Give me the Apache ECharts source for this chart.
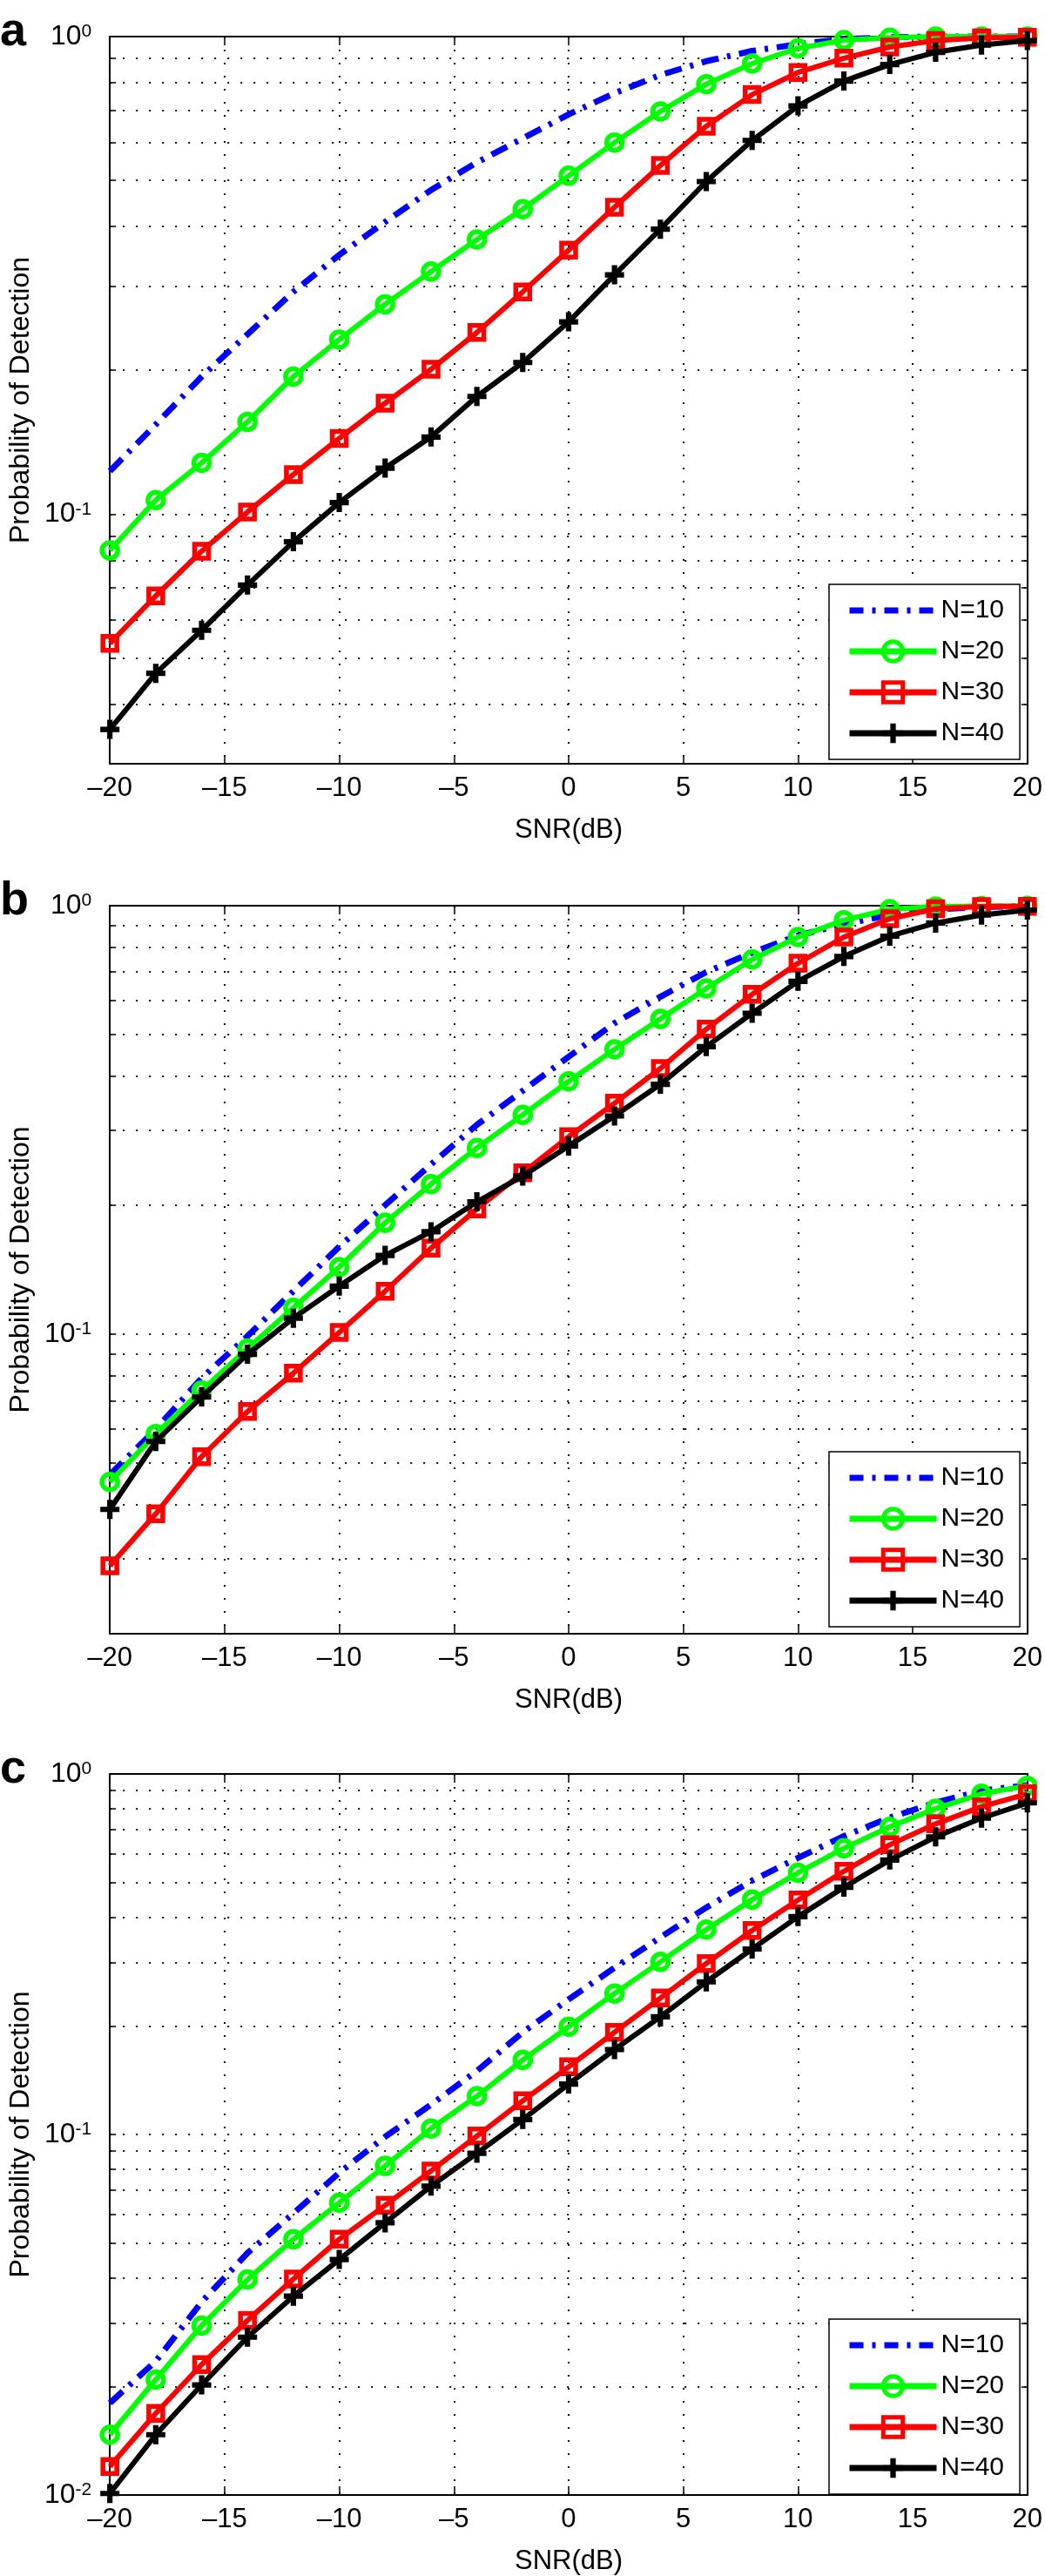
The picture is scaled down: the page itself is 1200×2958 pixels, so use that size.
<!DOCTYPE html>
<html><head><meta charset="utf-8">
<script src="https://cdn.jsdelivr.net/npm/echarts@6/dist/echarts.min.js"></script>
<style>html,body{margin:0;padding:0;background:#fff}#c{width:1200px;height:2958px}</style>
</head><body><div id="c"></div>
<script>
// ---------- data ----------
const snr = [-20,-18,-16,-14,-12,-10,-8,-6,-4,-2,0,2,4,6,8,10,12,14,16,18,20];
const seriesNames = ['N=10','N=20','N=30','N=40'];
const xTicks = [-20,-15,-10,-5,0,5,10,15,20];

// panel a
const a_N10 = [0.123,0.154,0.194,0.238,0.292,0.349,0.409,0.477,0.545,0.612,0.687,0.761,0.831,0.888,0.933,0.964,0.988,0.997,1.0,1.0,1.0];
const a_N20 = [0.0839,0.107,0.128,0.156,0.194,0.232,0.275,0.322,0.376,0.435,0.511,0.600,0.697,0.795,0.878,0.945,0.983,0.995,1.0,1.0,1.0];
const a_N30 = [0.0536,0.0674,0.0836,0.101,0.121,0.144,0.1707,0.201,0.240,0.292,0.357,0.439,0.537,0.649,0.756,0.841,0.901,0.951,0.981,0.994,0.997];
const a_N40 = [0.0354,0.0464,0.0571,0.0710,0.0875,0.1057,0.1248,0.145,0.1763,0.2077,0.2527,0.317,0.395,0.497,0.606,0.716,0.807,0.874,0.927,0.960,0.981];
const a_yTicks = [0.03,0.04,0.05,0.06,0.07,0.08,0.09,0.1,0.2,0.3,0.4,0.5,0.6,0.7,0.8,0.9,1];
const a_yLabels = [0.1,1];

// panel b
const b_N10 = [0.047,0.060,0.079,0.099,0.126,0.160,0.200,0.249,0.308,0.370,0.444,0.532,0.613,0.700,0.777,0.852,0.905,0.952,0.980,0.993,0.998];
const b_N20 = [0.0452,0.0585,0.0739,0.0926,0.1152,0.1434,0.182,0.224,0.272,0.325,0.389,0.462,0.544,0.641,0.749,0.845,0.925,0.981,0.995,0.998,0.999];
const b_N30 = [0.0288,0.0381,0.0518,0.0660,0.0811,0.101,0.126,0.1587,0.196,0.238,0.289,0.346,0.417,0.515,0.621,0.734,0.845,0.932,0.984,0.995,0.997];
const b_N40 = [0.039,0.0562,0.0714,0.0898,0.109,0.1295,0.1527,0.1734,0.2037,0.234,0.275,0.323,0.383,0.469,0.561,0.666,0.761,0.849,0.911,0.951,0.977];
const b_yTicks = [0.02,0.03,0.04,0.05,0.06,0.07,0.08,0.09,0.1,0.2,0.3,0.4,0.5,0.6,0.7,0.8,0.9,1];
const b_yLabels = [0.1,1];

// panel c
const c_N10 = [0.018,0.0235,0.0343,0.0469,0.0604,0.0783,0.0985,0.121,0.150,0.192,0.237,0.290,0.352,0.426,0.506,0.585,0.672,0.756,0.833,0.899,0.930];
const c_N20 = [0.0147,0.0209,0.0295,0.0396,0.0512,0.0647,0.0818,0.1038,0.1277,0.161,0.199,0.246,0.301,0.370,0.448,0.532,0.622,0.713,0.801,0.881,0.927];
const c_N30 = [0.0120,0.01685,0.0230,0.0305,0.0397,0.0512,0.0636,0.0792,0.099,0.124,0.154,0.192,0.239,0.298,0.368,0.447,0.537,0.636,0.727,0.811,0.881];
const c_N40 = [0.0101,0.0147,0.0202,0.0274,0.0356,0.045,0.0569,0.0719,0.0887,0.110,0.138,0.172,0.212,0.265,0.327,0.402,0.485,0.577,0.669,0.754,0.831];
const c_yTicks = [0.01,0.02,0.03,0.04,0.05,0.06,0.07,0.08,0.09,0.1,0.2,0.3,0.4,0.5,0.6,0.7,0.8,0.9,1];
const c_yLabels = [0.01,0.1,1];

// ---------- layout / style ----------
const FONT = '"Liberation Sans", Arial, Helvetica, sans-serif';
const panels = [
  {letter:'a', top:42,   height:835, ymin:0.03, ticks:a_yTicks, labels:a_yLabels, data:[a_N10,a_N20,a_N30,a_N40], legendTop:671},
  {letter:'b', top:1040, height:836, ymin:0.02, ticks:b_yTicks, labels:b_yLabels, data:[b_N10,b_N20,b_N30,b_N40], legendTop:1667},
  {letter:'c', top:2037, height:836, ymin:0.01, ticks:c_yTicks, labels:c_yLabels, data:[c_N10,c_N20,c_N30,c_N40], legendTop:2663}
];
const GL = 121, GW = 1060;
const gridStyle = {color:'#111', width:2, type:[2,13]};
const axisLineStyle = {color:'#000', width:2};
const crossPath = 'path://M3.6,0H6.4V3.6H10V6.4H6.4V10H3.6V6.4H0V3.6H3.6Z';
const COLORS = ['#0000ff','#00ff00','#ff0000','#000000'];
const styles = [
  {symbol:'none', lineStyle:{color:COLORS[0], width:7, type:[20,10,4,10]}, itemStyle:{color:COLORS[0], opacity:0}},
  {symbol:'circle', symbolSize:18, lineStyle:{color:COLORS[1], width:6}, itemStyle:{color:'rgba(255,255,255,0)', borderColor:COLORS[1], borderWidth:5.5}},
  {symbol:'rect', symbolSize:16, lineStyle:{color:COLORS[2], width:6}, itemStyle:{color:'rgba(255,255,255,0)', borderColor:COLORS[2], borderWidth:5.5}},
  {symbol:crossPath, symbolSize:22, lineStyle:{color:COLORS[3], width:6}, itemStyle:{color:COLORS[3]}}
];
const legendItems = [
  {name:'N=10', itemStyle:{opacity:0}, lineStyle:{color:COLORS[0], width:7, type:[16,10,4,10]}},
  {name:'N=20', itemStyle:{color:'rgba(255,255,255,0)', borderColor:COLORS[1], borderWidth:5}, lineStyle:{color:COLORS[1], width:7}},
  {name:'N=30', itemStyle:{color:'rgba(255,255,255,0)', borderColor:COLORS[2], borderWidth:5}, lineStyle:{color:COLORS[2], width:7}},
  {name:'N=40', itemStyle:{color:COLORS[3]}, lineStyle:{color:COLORS[3], width:7}}
];
const fmtX = v => String(v).replace('-', '\u2013');
const fmtY = v => { const e = Math.round(Math.log10(v)); return '{b|10}{s|' + e + '}'; };

const grid = [], xAxis = [], yAxis = [], series = [], legend = [], graphic = [];
panels.forEach((p, gi) => {
  grid.push({left:GL, top:p.top, width:GW, height:p.height, containLabel:false});
  xAxis.push({
    type:'value', gridIndex:gi, min:-20, max:20, interval:5,
    axisLine:{onZero:false, lineStyle:axisLineStyle},
    axisTick:{inside:true, length:10, lineStyle:{color:'#000', width:1.5}},
    splitLine:{show:true, lineStyle:gridStyle},
    axisLabel:{margin:13, fontSize:31, fontFamily:FONT, color:'#000', formatter:fmtX},
    name:'SNR(dB)', nameLocation:'middle', nameGap:61,
    nameTextStyle:{fontSize:31, fontFamily:FONT, color:'#000'}
  });
  xAxis.push({
    type:'value', gridIndex:gi, position:'top', min:-20, max:20, interval:5,
    axisLine:{onZero:false, lineStyle:axisLineStyle},
    axisTick:{inside:true, length:10, lineStyle:{color:'#000', width:1.5}},
    axisLabel:{show:false}, splitLine:{show:false}
  });
  yAxis.push({
    type:'log', logBase:10, gridIndex:gi, min:p.ymin, max:1,
    axisLine:{show:true, onZero:false, lineStyle:axisLineStyle},
    axisTick:{show:true, inside:true, length:7, customValues:p.ticks, lineStyle:{color:'#000', width:1.5}},
    splitLine:{show:true, lineStyle:gridStyle},
    axisLabel:{customValues:p.labels, margin:21, formatter:fmtY,
      rich:{
        b:{fontSize:32, fontFamily:FONT, color:'#000', lineHeight:32, verticalAlign:'bottom'},
        s:{fontSize:21, fontFamily:FONT, color:'#000', lineHeight:21, verticalAlign:'top', padding:[0,0,14,0]}
      }},
    name:'Probability of Detection', nameLocation:'middle', nameGap:82,
    nameTextStyle:{fontSize:32, fontFamily:FONT, color:'#000'}
  });
  yAxis.push({
    type:'log', logBase:10, gridIndex:gi, position:'right', min:p.ymin, max:1,
    axisLine:{show:true, onZero:false, lineStyle:axisLineStyle},
    axisTick:{show:true, inside:true, length:7, customValues:p.ticks, lineStyle:{color:'#000', width:1.5}},
    axisLabel:{show:false}, splitLine:{show:false}
  });
  p.data.forEach((vals, si) => {
    series.push(Object.assign({
      type:'line', name:seriesNames[si], xAxisIndex:2*gi, yAxisIndex:2*gi,
      data:snr.map((x, i) => [x, vals[i]]), clip:false, animation:false, z:2+si
    }, styles[si]));
  });
  legend.push({
    left:952, top:p.legendTop, orient:'vertical', selectedMode:false,
    itemWidth:100, itemHeight:28, itemGap:17, padding:[15,18,15,20],
    borderColor:'#000', borderWidth:1.5, backgroundColor:'#fff',
    textStyle:{fontSize:30, fontFamily:FONT, color:'#000'},
    data:legendItems
  });
  graphic.push({type:'text', left:0, top:p.top - 32,
    style:{text:p.letter, font:'bold 54px ' + FONT, fill:'#000'}});
});

const chart = echarts.init(document.getElementById('c'), null, {renderer:'canvas'});
chart.setOption({
  backgroundColor:'#fff', animation:false,
  grid, xAxis, yAxis, series, legend, graphic
});
</script></body></html>
